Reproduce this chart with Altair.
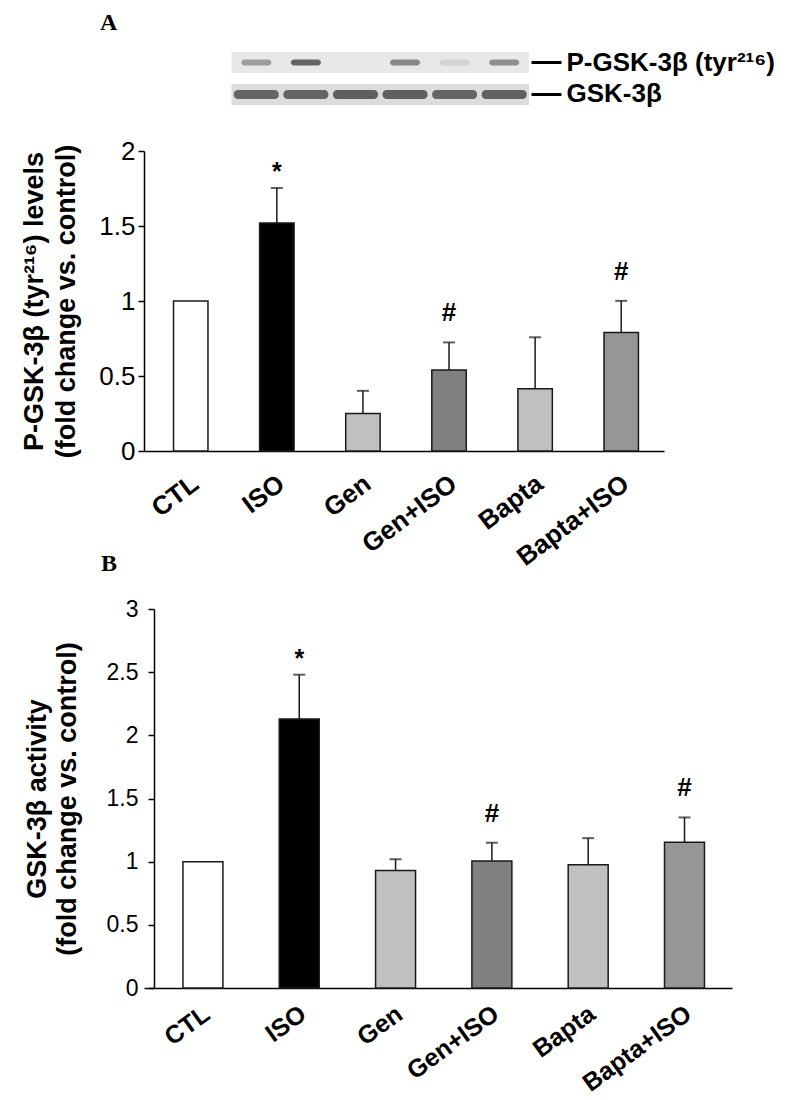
import altair as alt
import pandas as pd

# ---------------- data ----------------
groups = ["CTL", "ISO", "Gen", "Gen+ISO", "Bapta", "Bapta+ISO"]
bar_colors = ["#ffffff", "#000000", "#c0c0c0", "#808080", "#c0c0c0", "#969696"]

a_mean = [1.0, 1.52, 0.25, 0.54, 0.415, 0.79]
a_err = [0.0, 0.233, 0.151, 0.184, 0.343, 0.211]
a_mark = ["", "*", "", "#", "", "#"]

b_mean = [1.0, 2.13, 0.93, 1.005, 0.976, 1.153]
b_err = [0.0, 0.35, 0.09, 0.145, 0.21, 0.197]
b_mark = ["", "*", "", "#", "", "#"]

a_ticks = [0, 0.5, 1, 1.5, 2]
b_ticks = [0, 0.5, 1, 1.5, 2, 2.5, 3]

blot_rows = ["P-GSK-3β (tyr²¹⁶)", "GSK-3β"]
blot_lanes = [0, 1, 2, 3, 4, 5]
blot_p = [0.45, 0.85, 0.0, 0.6, 0.12, 0.55]
blot_total = [0.82, 0.82, 0.87, 0.87, 0.82, 0.85]

SANS = "Liberation Sans, Arial, sans-serif"
SERIF = "Liberation Serif, Times New Roman, serif"


def bar_panel(mean, err, marks, ytitle, ymax, tick_values, width, height,
              lab_size, lab_pad, title_size, title_lh, title_pad,
              xlab_size, xlab_pad, xlab_angle=-37, y_offset=0, pad_outer=0.3,
              x_align=0.5, pad_inner=0.6, title=None):
    df = pd.DataFrame(dict(group=groups, mean=mean, err=err, mark=marks, fill=bar_colors))
    base = alt.Chart(df).transform_calculate(top="datum.mean + datum.err")
    yscale = alt.Scale(domain=[0, ymax], nice=False, zero=True)
    xscale = alt.Scale(paddingInner=pad_inner, paddingOuter=pad_outer, align=x_align)
    xaxis = alt.Axis(title=None, labelAngle=xlab_angle, labelAlign="right", labelBaseline="top",
                     labelFont=SANS, labelFontSize=xlab_size, labelFontWeight="bold",
                     labelColor="black", labelPadding=xlab_pad, labelOffset=-3,
                     ticks=False, domainColor="black", domainWidth=1.5, grid=False)
    yaxis = alt.Axis(title=ytitle, values=tick_values, format="~g", offset=y_offset,
                     labelFont=SANS, labelFontSize=lab_size, labelColor="black",
                     labelPadding=lab_pad, tickSize=6, tickColor="black",
                     tickWidth=1.5, domainColor="black", domainWidth=1.5,
                     titleFont=SANS, titleFontSize=title_size,
                     titleFontWeight="bold", titleColor="black",
                     titleLineHeight=title_lh, titlePadding=title_pad, grid=False)
    xenc = alt.X("group:N", sort=groups, scale=xscale, axis=xaxis)

    def yenc(field):
        return alt.Y(field, scale=yscale, axis=yaxis)

    bars = base.mark_bar(stroke="#1a1a1a", strokeWidth=1.5).encode(
        x=xenc, y=yenc("mean:Q"), fill=alt.Fill("fill:N", scale=None))
    errs = base.transform_filter("datum.err > 0")
    rules = errs.mark_rule(color="#1a1a1a", strokeWidth=1.5).encode(
        x=xenc, y=yenc("mean:Q"), y2="top:Q")
    caps = errs.mark_tick(orient="horizontal", size=12, thickness=2, color="#1a1a1a").encode(
        x=xenc, y=yenc("top:Q"))
    stars = base.transform_filter("datum.mark == '*'").mark_text(
        dy=-8, baseline="alphabetic", font=SANS, fontSize=25, fontWeight="bold", color="black"
    ).encode(x=xenc, y=yenc("top:Q"), text="mark:N")
    hashes = base.transform_filter("datum.mark == '#'").mark_text(
        dy=-21, baseline="alphabetic", font=SANS, fontSize=26, fontWeight="bold", color="black"
    ).encode(x=xenc, y=yenc("top:Q"), text="mark:N")
    layer = alt.layer(bars, rules, caps, stars, hashes).properties(width=width, height=height)
    if title is not None:
        layer = layer.properties(title=title)
    return layer


# ---------------- western blot strip ----------------
blot_df = pd.DataFrame({
    "row": [blot_rows[0]] * 6 + [blot_rows[1]] * 6,
    "lane": blot_lanes * 2,
    "intensity": blot_p + blot_total,
})
blot_x = alt.Scale(domain=[-2.265, 5.5], nice=False, zero=False)
# bands kept at the top of the strip chart, empty room below
blot_y = alt.Scale(domain=blot_rows, paddingInner=0.34, paddingOuter=0.722, align=0)
blot_yaxis = alt.Axis(orient="right", title=None, domain=False, tickSize=30,
                      tickWidth=3, tickColor="black", offset=2, grid=False,
                      labelFont=SANS, labelFontSize=26, labelFontWeight="bold",
                      labelColor="black", labelPadding=5, labelLimit=400)
blot_yenc = alt.Y("row:N", scale=blot_y, sort=blot_rows, axis=blot_yaxis)

strip_bg = alt.Chart(blot_df).transform_aggregate(
    first="min(lane)", last="max(lane)", groupby=["row"]
).transform_calculate(lo="datum.first - 0.5", hi="datum.last + 0.5").mark_rect().encode(
    x=alt.X("lo:Q", scale=blot_x, axis=None),
    x2="hi:Q",
    y=blot_yenc,
    fill=alt.Fill("row:N", scale=alt.Scale(domain=blot_rows, range=["#e8e8e8", "#dcdcdc"]),
                  legend=None),
)
band_color = alt.Color("intensity:Q", scale=alt.Scale(domain=[0, 1], range=["#e8e8e8", "#111111"]),
                       legend=None)
p_bands = alt.Chart(blot_df).transform_filter(
    alt.datum.row == blot_rows[0]).transform_filter("datum.intensity > 0.02").mark_tick(
    orient="horizontal", size=30, thickness=6, cornerRadius=3).encode(
    x=alt.X("lane:Q", scale=blot_x, axis=None),
    y=blot_yenc,
    color=band_color,
)
t_bands = alt.Chart(blot_df).transform_filter(
    alt.datum.row == blot_rows[1]).mark_tick(
    orient="horizontal", size=45, thickness=9, cornerRadius=4).encode(
    x=alt.X("lane:Q", scale=blot_x, axis=None),
    y=blot_yenc,
    color=band_color,
)
blot = alt.layer(strip_bg, p_bands, t_bands).properties(
    width=385, height=99,
    title=alt.TitleParams("A", anchor="start", frame="group", dx=-44, font=SERIF,
                          fontSize=24, fontWeight="bold", color="black", offset=14),
)

panel_a = bar_panel(a_mean, a_err, a_mark,
                    ["P-GSK-3β (tyr²¹⁶)  levels", "(fold change vs. control)"],
                    2, a_ticks, 520, 300, 26, 3, 27, 32, 18, 26, 19,
                    pad_outer=0.32, x_align=0.536)

panel_b = bar_panel(b_mean, b_err, b_mark,
                    ["GSK-3β activity", "(fold change vs. control)"],
                    3, b_ticks, 588, 379, 23, 10, 27, 30, 25, 25, 13, xlab_angle=-36,
                    y_offset=-10, pad_outer=0.345, x_align=0.586, pad_inner=0.585,
                    title=alt.TitleParams("B", anchor="start", frame="group", dx=-43,
                                          font=SERIF, fontSize=24, fontWeight="bold",
                                          color="black", offset=22))

chart = alt.vconcat(blot, panel_a, panel_b, spacing=-19).configure_view(stroke=None).properties(
    padding={"left": 12, "top": 3, "right": 5, "bottom": 0}
)

chart.save("out.html", embed_options={"renderer": "svg", "actions": False})
